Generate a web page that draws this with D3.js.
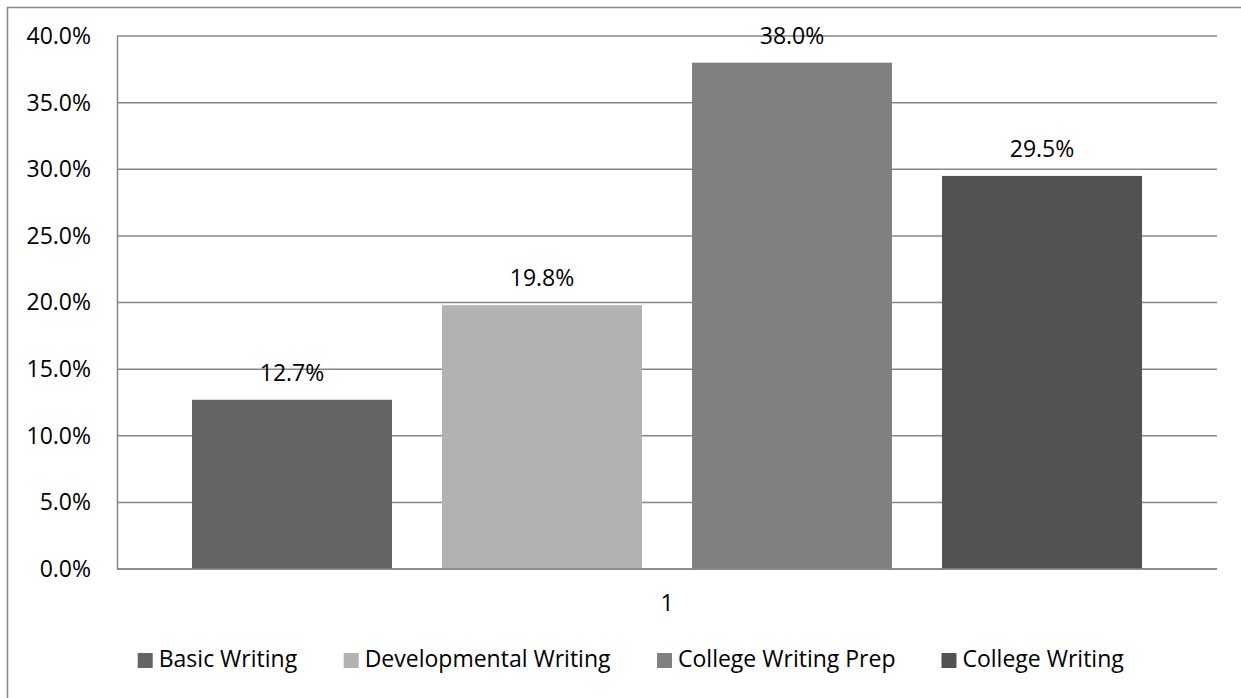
<!DOCTYPE html>
<html>
<head>
<meta charset="utf-8">
<script src="https://cdn.jsdelivr.net/npm/d3@7"></script>
<style>
  html, body { margin: 0; padding: 0; background: #ffffff; }
  svg { display: block; font-family: "Open Sans", sans-serif; }
</style>
</head>
<body>
<svg id="chart" width="1241" height="698"></svg>
<script>
// Writing placement shares (one category, four series)
const categories = ["1"];
const seriesNames = ["Basic Writing", "Developmental Writing", "College Writing Prep", "College Writing"];
const seriesValues = [12.7, 19.8, 38.0, 29.5];
const seriesColors = ["#646464", "#b2b2b2", "#808080", "#525252"];
const yTickValues = [0, 5, 10, 15, 20, 25, 30, 35, 40];

const W = 1241, H = 698;
const plot = { left: 117, right: 1217, top: 36, bottom: 569 };
const gridColor = "#868686";
const fontSize = 23;

const svg = d3.select("#chart");

// outer chart frame
svg.append("rect")
  .attr("x", 7.5).attr("y", 7.5)
  .attr("width", W).attr("height", H)
  .attr("fill", "none").attr("stroke", gridColor).attr("stroke-width", 1.5);

const y = d3.scaleLinear().domain([0, 40]).range([plot.bottom, plot.top]);

const x0 = d3.scaleBand().domain(categories).range([plot.left, plot.right]).paddingInner(0).paddingOuter(0);
// cluster inset: outer gap of 3/8 bar on each side, 1/4 bar between bars
const inset = x0.bandwidth() * 0.375 / 5.5;
const x1 = d3.scaleBand().domain(seriesNames)
  .range([x0(categories[0]) + inset, x0(categories[0]) + x0.bandwidth() - inset])
  .paddingInner(0.2).paddingOuter(0);

// gridlines
svg.append("g").selectAll("line").data(yTickValues).join("line")
  .attr("x1", plot.left).attr("x2", plot.right)
  .attr("y1", d => y(d)).attr("y2", d => y(d))
  .attr("stroke", gridColor).attr("stroke-width", 1.5);

// y axis
const yAxis = d3.axisLeft(y).tickValues(yTickValues).tickSize(0).tickPadding(26)
  .tickFormat(d => d.toFixed(1) + "%");
const yg = svg.append("g").attr("transform", `translate(${plot.left},0)`).call(yAxis);
yg.select(".domain").attr("stroke", gridColor).attr("stroke-width", 1.5);
yg.selectAll("text").attr("font-size", fontSize).attr("font-family", "Open Sans").attr("fill", "#000");

// bars
const data = seriesNames.map((name, i) => ({ name, value: seriesValues[i], color: seriesColors[i] }));
svg.append("g").selectAll("rect").data(data).join("rect")
  .attr("x", d => x1(d.name))
  .attr("width", x1.bandwidth())
  .attr("y", d => y(d.value))
  .attr("height", d => y(0) - y(d.value))
  .attr("fill", d => d.color);

// baseline over bars
svg.append("line")
  .attr("x1", plot.left).attr("x2", plot.right)
  .attr("y1", y(0)).attr("y2", y(0))
  .attr("stroke", gridColor).attr("stroke-width", 1.5);

// value labels
svg.append("g").selectAll("text").data(data).join("text")
  .attr("x", d => x1(d.name) + x1.bandwidth() / 2)
  .attr("y", d => y(d.value) - 19)
  .attr("text-anchor", "middle")
  .attr("font-size", fontSize)
  .attr("fill", "#000")
  .text(d => d.value.toFixed(1) + "%");

// category axis
const xAxis = d3.axisBottom(x0).tickSize(0).tickPadding(0);
const xg = svg.append("g").attr("transform", `translate(0,${plot.bottom})`).call(xAxis);
xg.select(".domain").remove();
xg.selectAll("text").attr("font-size", fontSize).attr("font-family", "Open Sans").attr("fill", "#000")
  .attr("dy", null).attr("y", 42);

// legend
const legend = svg.append("g");
const items = legend.selectAll("g").data(data).join("g");
items.append("rect").attr("width", 15).attr("height", 15).attr("y", 653).attr("fill", d => d.color);
items.append("text").attr("x", 21).attr("y", 667).attr("font-size", fontSize).attr("fill", "#000").text(d => d.name);
const gap = 46;
let widths = [];
items.each(function () { widths.push(this.getBBox().width); });
const total = d3.sum(widths) + gap * (widths.length - 1);
let cx = 631 - total / 2;
items.each(function (d, i) {
  d3.select(this).attr("transform", `translate(${cx},0)`);
  cx += widths[i] + gap;
});
</script>
</body>
</html>
